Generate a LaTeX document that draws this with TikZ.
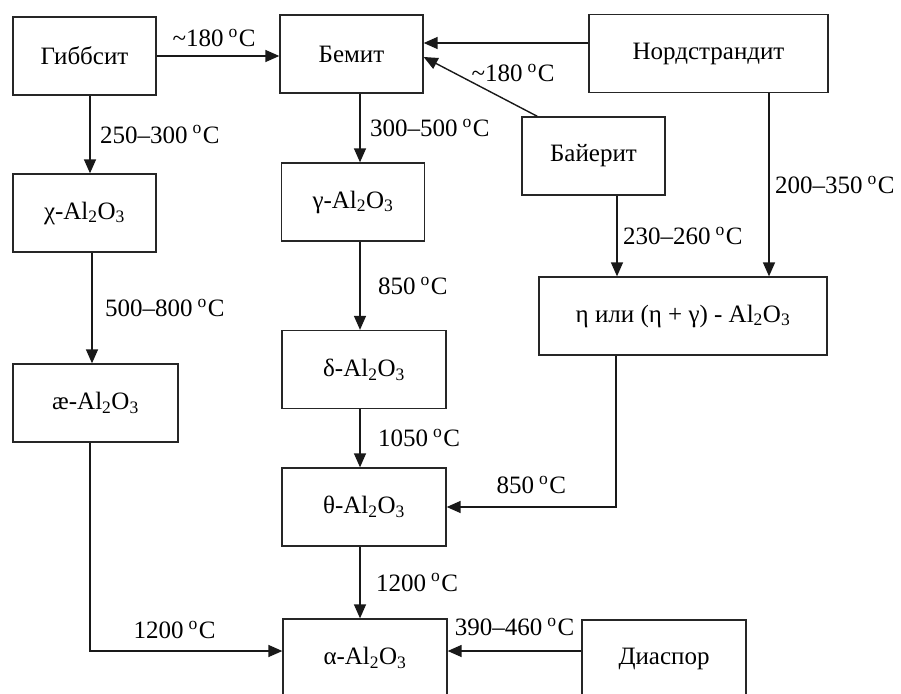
\documentclass[tikz,border=0pt]{standalone}
\usepackage{fontspec}
\setmainfont{Liberation Serif}
\usetikzlibrary{arrows.meta, positioning, calc}

\newcommand{\dg}{\hspace{5pt}\textsuperscript{o}\hspace{1pt}C}
\newcommand{\alox}{Al\textsubscript{2}O\textsubscript{3}}

\begin{document}
\begin{tikzpicture}[
    x=1pt, y=-1pt,
    box/.style={draw=black!85, line width=1.3pt, minimum width=143pt,
                minimum height=78pt, inner sep=0pt, font=\fontsize{25}{29}\selectfont},
    arr/.style={-{Triangle[length=14pt, width=12pt]}, line width=1.4pt, draw=black!90},
    lbl/.style={font=\fontsize{25}{29}\selectfont}
  ]
  \useasboundingbox (0,0) rectangle (901,693);

  % Hydroxides
  \node[box] (gibbsite) at (84.5,56) {Гиббсит};
  \node[box] (boehmite) at (351.5,54) {Бемит};
  \node[box, minimum width=239pt] (nordstr) at (708.5,53.5) {Нордстрандит};
  \node[box] (bayerite) at (593.5,156) {Байерит};
  \node[box, minimum width=164pt] (diaspore) at (664,659) {Диаспор};

  % Transition aluminas
  \node[box] (chi) at (84.5,213) {χ-\alox};
  \node[box, minimum width=165pt] (kappa) at (95.5,403) {æ-\alox};
  \node[box] (gamma) at (353,202) {γ-\alox};
  \node[box, minimum width=164pt] (delta) at (364,369.5) {δ-\alox};
  \node[box, minimum width=164pt] (theta) at (364,507) {θ-\alox};
  \node[box, minimum width=288pt] (eta) at (683,316) {η или (η + γ) - \alox};

  % Corundum
  \node[box, minimum width=164pt] (alpha) at (365,658) {α-\alox};

  % Arrows into Бемит
  \draw[arr] (gibbsite.east) -- node[lbl, above=5pt, xshift=-4pt]{\textasciitilde180\dg}
        (gibbsite.east -| boehmite.west);
  \draw[arr] ([yshift=10.5pt]nordstr.west) -- ([yshift=10.5pt]nordstr.west -| boehmite.east);
  \draw[arr] ([xshift=16pt]bayerite.north west) -- ([yshift=-3pt]boehmite.east);
  \node[lbl] (lbay) at (513,73) {\textasciitilde180\dg};

  % Left branch
  \draw[arr] ([xshift=5.5pt]gibbsite.south) -- node[lbl, right=6pt]{250--300\dg}
        ([xshift=5.5pt]gibbsite.south |- chi.north);
  \draw[arr] ([xshift=7.5pt]chi.south) -- node[lbl, right=9pt]{500--800\dg}
        ([xshift=7.5pt]chi.south |- kappa.north);
  \draw[arr] ([xshift=-5.5pt]kappa.south) |- node[lbl, above=8pt, pos=0.72]{1200\dg}
        ([yshift=7pt]alpha.west);

  % Middle branch
  \draw[arr] ([xshift=8.5pt]boehmite.south) -- node[lbl, right=6pt]{300--500\dg}
        ([xshift=8.5pt]boehmite.south |- gamma.north);
  \draw[arr] ([xshift=7pt]gamma.south) -- node[lbl, right=14pt]{850\dg}
        ([xshift=7pt]gamma.south |- delta.north);
  \draw[arr] ([xshift=-4pt]delta.south) -- node[lbl, right=14pt]{1050\dg}
        ([xshift=-4pt]theta.north);
  \draw[arr] ([xshift=-4pt]theta.south) -- node[lbl, right=12pt]{1200\dg}
        ([xshift=-4pt]theta.south |- alpha.north);

  % Right branch
  \draw[arr] ([xshift=60.5pt]nordstr.south) -- node[lbl, right=2pt]{200--350\dg}
        ([xshift=60.5pt]nordstr.south |- eta.north);
  \draw[arr] ([xshift=23.5pt]bayerite.south) -- node[lbl, right=2pt]{230--260\dg}
        ([xshift=23.5pt]bayerite.south |- eta.north);
  \draw[arr] ([xshift=-67pt]eta.south) |- node[lbl, above=9pt, pos=0.75]{850\dg}
        (theta.east);
  \draw[arr] ([yshift=8pt]diaspore.west) -- node[lbl, above=11pt]{390--460\dg}
        ([yshift=8pt]diaspore.west -| alpha.east);
\end{tikzpicture}
\end{document}
